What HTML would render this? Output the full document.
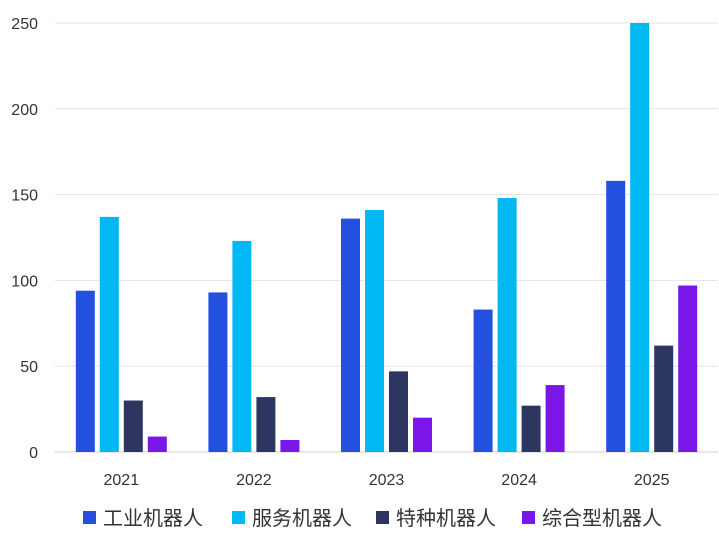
<!DOCTYPE html>
<html><head><meta charset="utf-8"><style>
body{margin:0;background:#fff;font-family:"Liberation Sans","Noto Sans CJK SC",sans-serif;}
svg{display:block}
</style></head><body>
<svg id="chart" width="719" height="542" xmlns="http://www.w3.org/2000/svg"></svg>
<script>
const categories=["2021","2022","2023","2024","2025"];
const seriesNames=["工业机器人","服务机器人","特种机器人","综合型机器人"];
const industrial=[94,93,136,83,158];
const service=[137,123,141,148,250];
const special=[30,32,47,27,62];
const composite=[9,7,20,39,97];
const yTicks=[0,50,100,150,200,250];
const colors=["#2450e0","#00b8f2","#2d3561","#7a16e8"];
const series=[industrial,service,special,composite];
const NS="http://www.w3.org/2000/svg";
const svg=document.getElementById("chart");
const x0=55,x1=718,y0=452,yTop=23,yMax=250;
const y=v=>y0-(v/yMax)*(y0-yTop);
const gw=(x1-x0)/categories.length;
const gx=i=>x0+gw*(i+0.5);
function mk(tag,attrs,txt){const e=document.createElementNS(NS,tag);for(const k in attrs)e.setAttribute(k,attrs[k]);if(txt!==undefined)e.textContent=txt;svg.appendChild(e);return e;}
yTicks.forEach(t=>{
  const g=mk("line",{x1:x0,x2:x1,y1:y(t),y2:y(t),stroke:t===0?"#cccccc":"#e3e3e3","stroke-width":1});
  
  
  const l=mk("text",{x:38,y:y(t)+6,"text-anchor":"end","font-size":16,fill:"#333"},String(t));
  
  
});
const bw=19,step=24;
categories.forEach((c,i)=>{
  series.forEach((s,j)=>{
    const bx=gx(i)-(step*4-5)/2+j*step;
    const r=mk("rect",{x:bx,y:y(s[i]),width:bw,height:y0-y(s[i]),fill:colors[j]});
    
    
  });
  const t=mk("text",{x:gx(i),y:485,"text-anchor":"middle","font-size":16,fill:"#333"},c);
  
  
});
const legX=[83,232,376,522];
seriesNames.forEach((n,j)=>{
  const r=mk("rect",{x:legX[j],y:511,width:13,height:13,fill:colors[j]});
  
  
  const t=mk("text",{x:legX[j]+20,y:525,"font-size":20,fill:"#333"},n);
  
  
});
</script>
</body></html>
